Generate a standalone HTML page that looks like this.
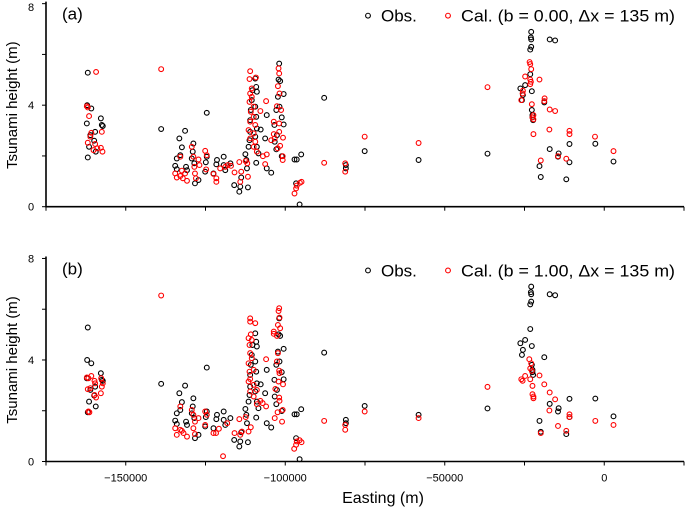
<!DOCTYPE html>
<html><head><meta charset="utf-8"><style>
html,body{margin:0;padding:0;background:#fff}
svg{display:block;font-family:"Liberation Sans",Arial,sans-serif}
</style></head><body>
<svg id="chart" width="685" height="515" viewBox="0 0 685 515" xmlns="http://www.w3.org/2000/svg"></svg>
<script>
// Easting in thousands of m, heights in m
const obsE=[-161.9,-162.1,-160.8,-157.8,-162.2,-157.5,-157.2,-159.6,-161.1,-159.9,-161.5,-159.4,-161.9,-138.9,-131.4,-133.2,-132.4,-134.0,-134.5,-134.0,-131.1,-130.8,-132.9,-128.8,-129.0,-129.3,-128.5,-128.3,-127.2,-124.6,-124.6,-124.9,-125.1,-121.4,-121.6,-119.3,-119.3,-118.8,-117.2,-122.5,-116.0,-114.4,-114.1,-113.8,-111.7,-112.5,-112.2,-112.0,-111.5,-111.2,-111.0,-111.0,-110.8,-110.5,-110.3,-109.4,-109.1,-108.9,-109.4,-109.1,-108.9,-109.4,-108.9,-108.4,-109.1,-107.7,-105.8,-106.3,-105.8,-104.4,-101.9,-102.1,-101.6,-102.3,-101.8,-102.8,-101.1,-100.5,-103.4,-100.5,-102.6,-103.3,-102.8,-101.1,-97.1,-96.4,-95.0,-96.6,-95.5,-87.8,-81.0,-81.0,-75.1,-58.2,-36.6,-22.9,-23.0,-22.9,-22.9,-23.2,-17.1,-15.4,-23.2,-24.8,-26.3,-25.5,-25.8,-22.7,-18.8,-22.7,-22.5,-22.3,-22.5,-17.1,-14.3,-14.5,-10.9,-10.9,-20.3,-19.9,-11.9,-2.8,2.9];
const obsH=[5.28,4.00,3.87,3.48,3.28,3.22,3.18,2.95,2.82,2.60,2.36,2.17,1.94,3.06,2.99,2.69,2.34,1.90,1.61,1.48,1.57,1.44,2.03,2.49,2.17,1.90,1.71,0.92,1.05,3.70,1.97,1.75,1.38,1.84,1.67,1.97,1.64,1.44,1.71,1.31,0.85,0.59,0.79,1.15,0.76,2.07,1.84,1.51,2.36,2.62,2.95,3.41,3.81,4.20,4.59,5.05,4.72,4.53,3.94,3.54,3.08,2.76,2.36,2.10,1.73,3.04,3.61,2.69,1.51,1.34,5.64,5.01,4.95,4.33,3.94,3.81,3.52,4.44,3.22,3.24,2.82,2.56,2.26,1.99,1.86,1.86,2.06,0.92,0.09,4.29,1.64,1.51,2.19,1.84,2.09,6.89,6.67,6.59,6.30,6.19,6.59,6.55,5.22,4.79,4.66,4.40,4.20,4.55,4.11,3.81,3.61,3.41,3.52,2.27,2.10,1.97,2.47,1.75,1.60,1.17,1.08,2.48,1.78];
const calAE=[-159.3,-162.2,-161.9,-161.5,-160.8,-161.1,-157.5,-161.9,-159.6,-160.1,-158.9,-157.8,-157.3,-138.9,-134.5,-134.0,-132.9,-132.4,-132.1,-130.8,-131.4,-132.9,-129.3,-128.8,-128.5,-128.3,-128.0,-127.2,-126.9,-125.1,-124.6,-124.8,-122.5,-121.6,-121.6,-120.4,-118.8,-118.0,-117.0,-115.9,-114.4,-114.1,-113.8,-112.4,-111.7,-111.0,-111.2,-110.5,-111.0,-110.5,-111.2,-109.9,-110.8,-109.9,-111.0,-109.4,-111.5,-109.9,-111.0,-109.4,-109.9,-108.9,-111.9,-109.2,-107.8,-106.0,-107.0,-105.8,-106.3,-104.4,-102.1,-101.9,-102.3,-101.8,-102.6,-101.3,-103.6,-101.9,-103.6,-101.9,-100.7,-102.4,-101.6,-103.3,-100.8,-100.8,-94.9,-95.4,-96.4,-96.6,-97.1,-87.8,-81.2,-81.2,-75.1,-58.2,-36.6,-23.4,-23.2,-22.9,-24.8,-23.2,-23.0,-23.2,-20.3,-25.5,-25.6,-26.0,-18.7,-18.8,-17.1,-15.4,-22.7,-22.2,-22.5,-22.2,-22.2,-17.2,-10.9,-10.9,-2.9,2.9,-11.9,-14.5,-19.9];
const calAH=[5.31,3.96,3.91,3.57,2.91,2.76,2.95,2.52,2.47,2.23,2.30,2.32,2.17,5.42,1.31,1.15,1.21,1.42,1.12,1.02,1.31,1.97,2.36,1.97,1.57,1.31,1.12,1.86,1.64,2.20,2.03,1.47,1.29,1.12,0.98,1.51,1.57,1.64,1.61,1.35,1.76,0.98,1.38,1.80,1.18,5.34,5.03,4.66,4.46,4.33,4.13,3.94,3.74,3.54,3.35,3.22,3.02,2.89,2.69,2.56,2.36,2.17,1.71,5.09,3.77,4.16,1.99,2.06,1.68,2.62,5.45,5.25,4.75,4.46,3.96,3.81,3.35,3.28,2.86,2.95,2.72,2.30,2.40,2.69,1.99,1.84,0.98,0.94,0.83,0.72,0.52,1.73,1.71,1.38,2.76,2.51,4.71,5.70,5.62,5.42,5.13,5.01,4.92,4.83,5.01,4.57,4.46,4.20,4.27,4.16,3.83,3.77,4.04,3.61,3.52,3.44,2.86,3.04,2.99,2.86,2.76,2.19,1.89,1.99,1.82];
const calBE=[-138.9,-162.2,-161.7,-160.8,-159.8,-159.6,-157.7,-157.2,-157.5,-161.9,-161.1,-159.8,-159.3,-157.8,-161.7,-161.4,-134.5,-134.0,-132.9,-131.9,-130.8,-132.4,-132.9,-129.3,-128.8,-128.3,-128.8,-128.3,-127.2,-125.1,-124.6,-125.1,-122.5,-121.7,-120.8,-119.5,-118.2,-115.9,-114.4,-114.1,-113.6,-112.4,-111.5,-111.0,-111.0,-109.4,-110.8,-111.5,-110.5,-111.2,-111.0,-110.5,-111.5,-109.9,-111.2,-111.0,-111.5,-109.9,-111.0,-108.9,-109.9,-107.8,-108.9,-107.1,-106.0,-110.8,-106.0,-101.9,-102.1,-101.8,-102.3,-101.6,-103.6,-103.6,-102.6,-102.3,-102.6,-101.9,-101.8,-102.1,-100.7,-101.9,-101.8,-102.4,-100.8,-103.3,-101.0,-103.1,-97.2,-96.6,-96.4,-95.5,-94.9,-87.8,-81.2,-81.2,-75.1,-58.2,-36.6,-23.5,-22.9,-23.2,-22.7,-24.8,-26.0,-25.6,-23.2,-20.3,-22.5,-22.5,-22.2,-22.2,-18.8,-17.1,-15.4,-17.2,-10.9,-10.9,-14.5,-19.9,-11.9,-2.8,2.9];
const calBH=[6.54,3.31,3.28,3.37,3.18,3.08,3.28,3.08,2.95,2.85,2.89,2.62,2.52,2.69,1.97,1.94,1.31,1.05,1.25,1.12,0.98,1.21,2.17,2.03,1.84,1.57,1.31,1.08,1.71,1.97,1.84,1.44,1.12,1.12,1.29,0.21,1.51,1.12,1.67,1.05,1.18,1.75,1.18,5.64,5.51,5.45,5.01,4.86,4.79,4.59,4.27,4.07,3.87,3.61,3.54,3.25,3.15,3.02,2.76,2.82,2.56,2.39,2.26,2.30,2.17,1.35,4.03,6.04,5.93,5.67,5.38,5.25,5.12,5.03,4.95,4.27,3.94,3.58,3.48,3.15,3.04,2.52,2.39,1.94,2.03,1.71,1.57,2.86,0.50,0.66,0.79,0.84,0.76,1.60,1.25,1.44,1.97,1.71,2.94,4.03,3.87,3.67,3.57,3.37,3.24,3.18,3.24,3.39,2.98,2.65,2.56,2.49,3.04,2.72,2.45,2.01,1.86,1.75,1.40,1.12,1.21,1.60,1.44];
const xTicks=[-175000,-150000,-125000,-100000,-75000,-50000,-25000,0,25000];
const xLabels=[-150000,-100000,-50000,0];
const yTicks=[0,2,4,6,8];
const yLabels=[0,4,8];

const NS="http://www.w3.org/2000/svg";
const svg=document.getElementById('chart');
const X0=46,X1=684,XMIN=-175000,XMAX=25000;
function xs(v){return X0+(v-XMIN)/(XMAX-XMIN)*(X1-X0);}
function mk(tag,attrs,parent){const e=document.createElementNS(NS,tag);for(const k in attrs)e.setAttribute(k,attrs[k]);(parent||svg).appendChild(e);return e;}

function panel(id,y0,letter,bText,calE,calH,showX){
  const ys=v=>y0-v*25.38;
  const g=mk('g',{});
  
  
  const pts=mk('g',{},g);
  
  
  for(let i=0;i<obsE.length;i++){
    const c=mk('circle',{cx:xs(obsE[i]*1000),cy:ys(obsH[i]),r:2.4,fill:'none',stroke:'#000','stroke-width':1.1},pts);
    
    
  }
  for(let i=0;i<calE.length;i++){
    const c=mk('circle',{cx:xs(calE[i]*1000),cy:ys(calH[i]),r:2.4,fill:'none',stroke:'#f00','stroke-width':1.1},pts);
    
    
  }
  const ax=mk('path',{d:`M${X0},${ys(8)-2}V${y0}H${X1}`,fill:'none',stroke:'#000','stroke-width':1.6},g);
  
  
  xTicks.forEach(t=>{const l=mk('line',{x1:xs(t),x2:xs(t),y1:y0,y2:y0+4,stroke:'#000','stroke-width':1},g);
    
    });
  yTicks.forEach(t=>{const l=mk('line',{x1:X0-4,x2:X0,y1:ys(t),y2:ys(t),stroke:'#000','stroke-width':1},g);
    
    });
  yLabels.forEach(t=>{const tx=mk('text',{x:31,y:Math.max(ys(t)+4,11),'font-size':11,'text-anchor':'middle'},g);tx.textContent=t;
    
    });
  if(showX){xLabels.forEach(t=>{const tx=mk('text',{x:xs(t),y:y0+20,'font-size':11,'text-anchor':'middle'},g);tx.textContent=t===0?'0':'\u2212'+Math.abs(t);
    
    });}
  const yt=mk('text',{x:0,y:0,'font-size':15,'text-anchor':'middle',transform:`translate(17,${ys(4)}) rotate(-90)`},g);yt.textContent='Tsunami height (m)';
  
  
  const pl=mk('text',{x:62,y:ys(8)+16,'font-size':17},g);pl.textContent=letter;
  
  
  const lg=mk('g',{},g);
  
  
  const ly=ys(8)+12;
  const c1=mk('circle',{cx:368,cy:ly,r:2.4,fill:'none',stroke:'#000','stroke-width':1.1},lg);
  
  
  const t1=mk('text',{x:381,y:ly+6,'font-size':17},lg);t1.textContent='Obs.';
  
  
  const c2=mk('circle',{cx:448,cy:ly,r:2.4,fill:'none',stroke:'#f00','stroke-width':1.1},lg);
  
  
  const t2=mk('text',{x:461,y:ly+6,'font-size':17,textLength:214,lengthAdjust:'spacingAndGlyphs'},lg);t2.textContent=bText;
  
  
}
panel('a',206.7,'(a)','Cal. (b = 0.00, \u0394x = 135 m)',calAE,calAH,false);
panel('b',461.5,'(b)','Cal. (b = 1.00, \u0394x = 135 m)',calBE,calBH,true);
const xt=mk('text',{x:383,y:503,'font-size':16,'text-anchor':'middle'});xt.textContent='Easting (m)';


</script>
</body></html>
